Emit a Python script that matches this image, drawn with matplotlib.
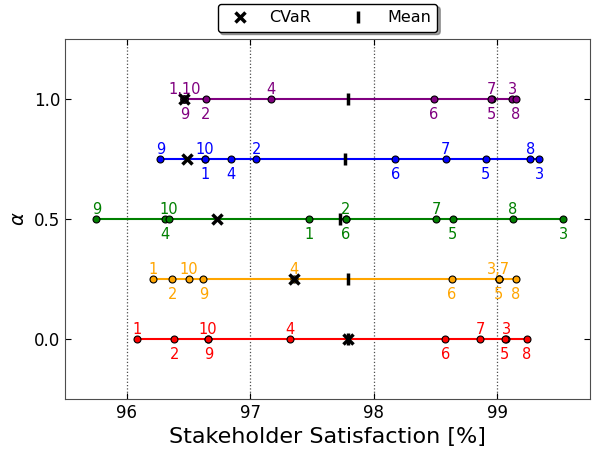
import numpy as np
import matplotlib
matplotlib.use('Agg')
import matplotlib.pyplot as plt
from matplotlib.lines import Line2D

# --- dados ---
alphas = [0.0, 0.25, 0.5, 0.75, 1.0]
cores = ['red', 'orange', 'green', 'blue', 'purple']
cenarios = [1, 2, 3, 4, 5, 6, 7, 8, 9, 10]

# satisfacao por cenario (1..10) para cada alpha
sat_a000 = [96.08, 96.385, 99.07, 97.32, 99.06, 98.58, 98.86, 99.24, 96.66, 96.655]
sat_a025 = [96.213, 96.37, 99.01, 97.355, 99.01, 98.63, 99.01, 99.15, 96.62, 96.50]
sat_a050 = [97.476, 97.773, 99.535, 96.313, 98.637, 97.773, 98.507, 99.125, 95.754, 96.343]
sat_a075 = [96.634, 97.05, 99.338, 96.842, 98.907, 98.175, 98.583, 99.268, 96.272, 96.634]
sat_a100 = [96.467, 96.64, 99.12, 97.171, 98.955, 98.486, 98.950, 99.15, 96.467, 96.467]
satisfacao = [sat_a000, sat_a025, sat_a050, sat_a075, sat_a100]

cvar = [97.79, 97.355, 96.729, 96.488, 96.467]

fig = plt.figure(figsize=(5.93, 4.51), dpi=100)
pos_ax = [0.1096, 0.1153, 0.8854, 0.7982]
ax = fig.add_axes(pos_ax)

for a, cor, vals, cv in zip(alphas, cores, satisfacao, cvar):
    vals = np.array(vals)
    ax.plot([vals.min(), vals.max()], [a, a], color=cor, lw=1.5, zorder=2)
    ax.plot(vals, [a] * len(vals), 'o', color=cor, mec='black', mew=0.8, ms=5, zorder=3)
    ax.plot(np.mean(vals), a, '|', color='black', ms=8, mew=2.5, zorder=4)
    ax.plot(cv, a, 'x', color='black', ms=7, mew=2.5, zorder=5)

    # rotulos alternando acima / abaixo na ordem crescente
    ordem = np.argsort(vals, kind='stable')
    grupos = {True: [], False: []}
    for k, i in enumerate(ordem):
        acima = (k % 2 == 0)
        g = grupos[acima]
        if g and abs(g[-1][0] - vals[i]) < 0.02:
            g[-1][1].append(str(cenarios[i]))
        else:
            g.append((vals[i], [str(cenarios[i])]))
    for acima, g in grupos.items():
        for x, nomes in g:
            if acima:
                ax.annotate(','.join(nomes), (x, a), xytext=(0, 3.5), textcoords='offset points',
                            ha='center', va='baseline', color=cor, fontsize=10.5)
            else:
                ax.annotate(','.join(nomes), (x, a), xytext=(0, -6), textcoords='offset points',
                            ha='center', va='top', color=cor, fontsize=10.5)

ax.set_xlim(95.5, 99.75)
ax.set_ylim(-0.25, 1.25)
ax.set_xticks([96, 97, 98, 99])
ax.set_yticks([0.0, 0.5, 1.0])
ax.xaxis.grid(True, linestyle=':', color='0.3', lw=0.9)
ax.tick_params(direction='in', top=True, right=True, labelsize=12, length=4)
for s in ax.spines.values():
    s.set_color('0.3')
ax.set_xlabel('Stakeholder Satisfaction [%]', fontsize=16)
ax.set_ylabel(r'$\alpha$', fontsize=14)

legenda = [Line2D([], [], ls='none', marker='x', color='black', ms=7, mew=2.5, label='CVaR'),
           Line2D([], [], ls='none', marker='|', color='black', ms=8, mew=2.5, label='Mean')]
centro_x = pos_ax[0] + pos_ax[2] / 2
fig.legend(handles=legenda, loc='upper center', bbox_to_anchor=(centro_x, 1 - 4 / 451), ncol=2,
           fontsize=11.5, fancybox=True, shadow=True, edgecolor='black', framealpha=1,
           borderaxespad=0)

fig.savefig('out.png', dpi=100)
